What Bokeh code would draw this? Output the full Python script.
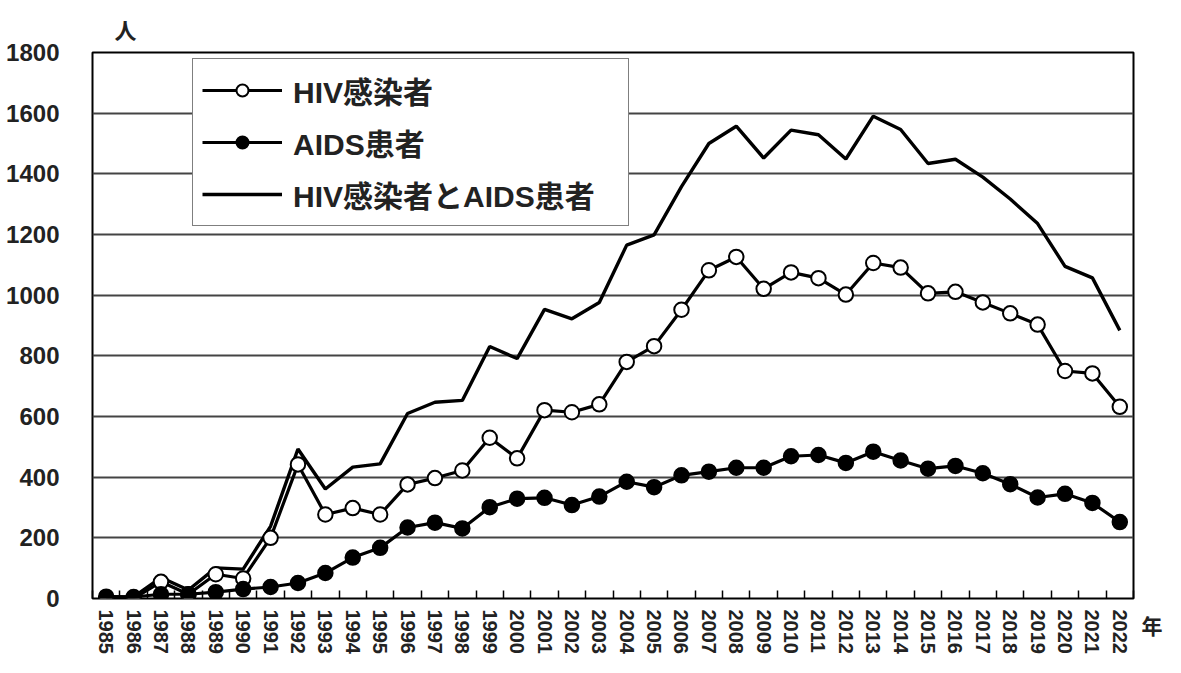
from bokeh.plotting import figure
from bokeh.models import (ColumnDataSource, FixedTicker, Legend, LegendItem, Range1d,
                          LinearAxis, Title)
from bokeh.embed import file_html
from bokeh.resources import INLINE

years = list(range(1985, 2023))
hiv = [0, 0, 55, 14, 80, 66, 200, 442, 277, 298, 277, 376, 397, 422, 530, 462,
       621, 614, 640, 780, 832, 952, 1082, 1126, 1021, 1075, 1056, 1002, 1106, 1091,
       1006, 1011, 976, 940, 903, 750, 742, 632]
aids = [6, 5, 14, 14, 21, 31, 38, 51, 84, 135, 167, 234, 250, 231, 301, 329,
        332, 308, 336, 385, 367, 406, 418, 431, 431, 469, 473, 447, 484, 455,
        428, 437, 413, 377, 333, 345, 315, 252]
total = [6, 5, 69, 28, 101, 97, 238, 493, 361, 433, 444, 610, 647, 653, 831, 791,
         953, 922, 976, 1165, 1199, 1358, 1500, 1557, 1452, 1544, 1529, 1449, 1590, 1546,
         1434, 1448, 1389, 1317, 1236, 1095, 1057, 884]
y_ticks = [0, 200, 400, 600, 800, 1000, 1200, 1400, 1600, 1800]
labels = ["HIV感染者", "AIDS患者", "HIV感染者とAIDS患者"]
y_unit = "人"
x_unit = "年"

FONT = "Liberation Sans, Noto Sans CJK JP"
TXT = "#222222"

src = ColumnDataSource(dict(year=years, hiv=hiv, aids=aids, total=total))

p = figure(width=1165, height=657, output_backend="svg", toolbar_location=None,
           x_range=Range1d(years[0] - 0.5, years[-1] + 0.5),
           y_range=Range1d(y_ticks[0], y_ticks[-1]),
           min_border_left=92, min_border_right=27, min_border_top=52, min_border_bottom=59)

p.outline_line_color = "black"
p.outline_line_width = 2
p.background_fill_color = "white"
p.border_fill_color = "white"

# unit label on top (y axis)
p.add_layout(Title(text=y_unit, align="left", offset=22, standoff=18,
                   text_font=FONT, text_font_size="22px", text_font_style="bold",
                   text_color=TXT), "above")

# grid
p.xgrid.grid_line_color = None
p.ygrid.grid_line_color = "#444444"
p.ygrid.grid_line_width = 2
p.ygrid.ticker = FixedTicker(ticks=y_ticks[1:-1])

# y axis
p.yaxis.ticker = FixedTicker(ticks=y_ticks)
p.yaxis.axis_line_color = None
p.yaxis.major_tick_line_color = None
p.yaxis.minor_tick_line_color = None
p.yaxis.major_label_standoff = 27
p.yaxis.major_label_text_font = FONT
p.yaxis.major_label_text_font_size = "24px"
p.yaxis.major_label_text_font_style = "bold"
p.yaxis.major_label_text_color = TXT

# x axis
bounds = [y - 0.5 for y in years] + [years[-1] + 0.5]
p.xaxis.ticker = FixedTicker(ticks=years, minor_ticks=bounds)
p.xaxis.axis_line_color = None
p.xaxis.major_tick_line_color = None
p.xaxis.minor_tick_line_color = "black"
p.xaxis.minor_tick_line_width = 1.5
p.xaxis.minor_tick_in = 8
p.xaxis.minor_tick_out = 0
p.xaxis.major_label_orientation = "vertical"
p.xaxis.major_label_standoff = 5
p.xaxis.major_label_text_font = FONT
p.xaxis.major_label_text_font_size = "20px"
p.xaxis.major_label_text_font_style = "bold"
p.xaxis.major_label_text_color = TXT

# x unit label on the right, just below the frame
unit_axis = LinearAxis(ticker=FixedTicker(ticks=[y_ticks[0]]),
                       major_label_overrides={y_ticks[0]: "\n\n" + x_unit})
unit_axis.axis_line_color = None
unit_axis.major_tick_line_color = None
unit_axis.minor_tick_line_color = None
unit_axis.major_tick_in = 0
unit_axis.major_tick_out = 0
unit_axis.minor_tick_in = 0
unit_axis.minor_tick_out = 0
unit_axis.major_label_standoff = 8
unit_axis.major_label_text_font = FONT
unit_axis.major_label_text_font_size = "21px"
unit_axis.major_label_text_font_style = "bold"
unit_axis.major_label_text_color = TXT
p.add_layout(unit_axis, "right")

# series
r_total = p.line("year", "total", source=src, line_color="black", line_width=3.4)
r_hiv_l = p.line("year", "hiv", source=src, line_color="black", line_width=3.2)
r_hiv_m = p.scatter("year", "hiv", source=src, size=14.5, marker="circle",
                    fill_color="white", line_color="black", line_width=2)
r_aids_l = p.line("year", "aids", source=src, line_color="black", line_width=3.2)
r_aids_m = p.scatter("year", "aids", source=src, size=14.5, marker="circle",
                     fill_color="black", line_color="black", line_width=2)

legend = Legend(items=[
    LegendItem(label=labels[0], renderers=[r_hiv_l, r_hiv_m]),
    LegendItem(label=labels[1], renderers=[r_aids_l, r_aids_m]),
    LegendItem(label=labels[2], renderers=[r_total]),
], location=(100, 372))
legend.padding = 9
legend.spacing = 8
legend.glyph_width = 80
legend.glyph_height = 30
legend.label_height = 30
legend.label_standoff = 11
legend.label_width = 326
legend.label_text_font = FONT
legend.label_text_font_size = "30px"
legend.label_text_font_style = "bold"
legend.label_text_color = TXT
legend.border_line_color = "black"
legend.border_line_width = 1.5
legend.background_fill_color = "white"
legend.background_fill_alpha = 1
legend.margin = 0
p.add_layout(legend, "center")

open("out.html", "w").write(file_html(p, INLINE))
